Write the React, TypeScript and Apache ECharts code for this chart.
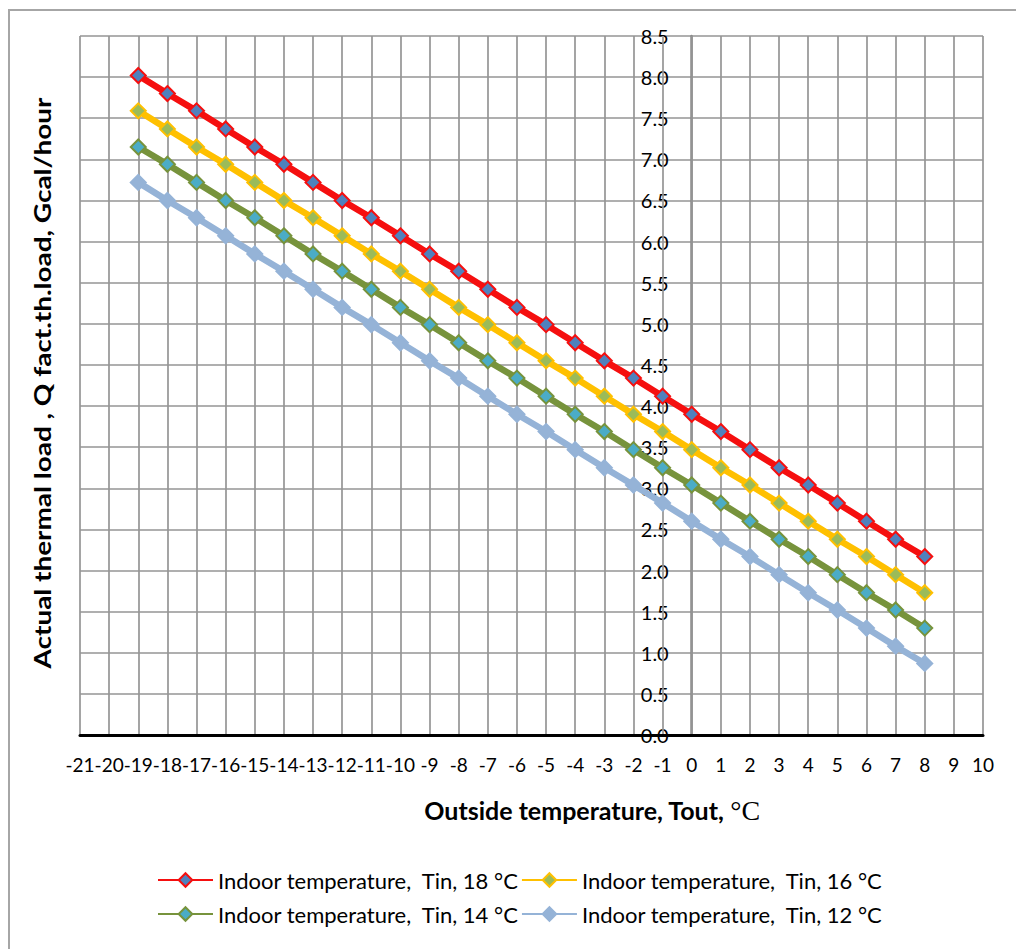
import React, { useEffect, useRef } from "react";
import * as echarts from "echarts";

// Outside temperature, °C (x values of the points)
const TOUT = [-19, -18, -17, -16, -15, -14, -13, -12, -11, -10, -9, -8, -7, -6, -5, -4, -3, -2, -1, 0, 1, 2, 3, 4, 5, 6, 7, 8];

// Actual thermal load, Gcal/hour
const TIN_18 = [8.02, 7.8, 7.59, 7.37, 7.15, 6.94, 6.72, 6.5, 6.29, 6.07, 5.85, 5.64, 5.42, 5.2, 4.99, 4.77, 4.55, 4.34, 4.12, 3.9, 3.69, 3.47, 3.25, 3.04, 2.82, 2.6, 2.38, 2.17];
const TIN_16 = [7.59, 7.37, 7.15, 6.94, 6.72, 6.5, 6.29, 6.07, 5.85, 5.64, 5.42, 5.2, 4.99, 4.77, 4.55, 4.34, 4.12, 3.9, 3.69, 3.47, 3.25, 3.04, 2.82, 2.6, 2.38, 2.17, 1.95, 1.73];
const TIN_14 = [7.15, 6.94, 6.72, 6.5, 6.29, 6.07, 5.85, 5.64, 5.42, 5.2, 4.99, 4.77, 4.55, 4.34, 4.12, 3.9, 3.69, 3.47, 3.25, 3.04, 2.82, 2.6, 2.38, 2.17, 1.95, 1.73, 1.52, 1.3];
const TIN_12 = [6.72, 6.5, 6.29, 6.07, 5.85, 5.64, 5.42, 5.2, 4.99, 4.77, 4.55, 4.34, 4.12, 3.9, 3.69, 3.47, 3.25, 3.04, 2.82, 2.6, 2.38, 2.17, 1.95, 1.73, 1.52, 1.3, 1.08, 0.87];

const SERIES_NAMES = [
  "Indoor temperature,  Tin, 18 °C",
  "Indoor temperature,  Tin, 16 °C",
  "Indoor temperature,  Tin, 14 °C",
  "Indoor temperature,  Tin, 12 °C",
];
const SERIES_VALUES = [TIN_18, TIN_16, TIN_14, TIN_12];
const LINE_COLORS = ["#f50f0f", "#ffc000", "#77933c", "#95b3d7"];
const MARKER_COLORS = ["#4f81bd", "#9bbb59", "#4bacc6", "#95b3d7"];

const X_MIN = -21;
const X_MAX = 10;
const Y_MIN = 0;
const Y_MAX = 8.5;
const Y_STEP = 0.5;

const Y_TITLE = "Actual thermal load , Q fact.th.load, Gcal/hour";
const X_TITLE = "Outside temperature, Tout, ";
const X_TITLE_UNIT = "°C";

const GRID_LEFT = 80;
const GRID_RIGHT = 33;
const CHART_W = 1016;

export default function App() {
  const ref = useRef<HTMLDivElement>(null);

  useEffect(() => {
    document.body.style.margin = "0";
    document.body.style.overflow = "hidden";
    const chart = echarts.init(ref.current!, null, { renderer: "svg" });
    const FONT = "Lato, 'Noto Sans', sans-serif";
    const gridLine = { color: "#959595", width: 1.7 };
    // place the value axis where x = 0 (axis crosses there in the original)
    const plotW = CHART_W - GRID_LEFT - GRID_RIGHT;
    const zeroShift = ((0 - X_MIN) / (X_MAX - X_MIN)) * plotW;

    chart.setOption({
      animation: false,
      backgroundColor: "#ffffff",
      grid: { left: GRID_LEFT, top: 36, right: GRID_RIGHT, bottom: 214, show: false },
      xAxis: {
        type: "value",
        min: X_MIN,
        max: X_MAX,
        interval: 1,
        axisLine: { show: true, onZero: false, lineStyle: { color: "#000000", width: 3 } },
        axisTick: { show: false },
        axisLabel: {
          margin: 20,
          fontSize: 19,
          color: "#000000",
          fontFamily: FONT,
          showMinLabel: true,
          showMaxLabel: true,
          hideOverlap: false,
        },
        splitLine: { show: true, lineStyle: gridLine },
        z: 3,
      },
      yAxis: {
        type: "value",
        min: Y_MIN,
        max: Y_MAX,
        interval: Y_STEP,
        offset: -zeroShift,
        axisLine: { show: true, onZero: false, lineStyle: { color: "#8a8a8a", width: 2.5 } },
        axisTick: { show: false },
        axisLabel: {
          margin: 23,
          fontSize: 20,
          color: "#000000",
          fontFamily: FONT,
          showMinLabel: true,
          showMaxLabel: true,
          hideOverlap: false,
          formatter: (v: number) => v.toFixed(1),
        },
        splitLine: { show: true, lineStyle: gridLine },
      },
      legend: [
        {
          data: [SERIES_NAMES[0], SERIES_NAMES[1]],
          left: 157,
          top: 869,
          padding: 0,
          itemWidth: 55,
          itemHeight: 17,
          itemGap: 2,
          textStyle: { fontSize: 22, color: "#000000", fontFamily: FONT },
        },
        {
          data: [SERIES_NAMES[2], SERIES_NAMES[3]],
          left: 157,
          top: 903,
          padding: 0,
          itemWidth: 55,
          itemHeight: 17,
          itemGap: 2,
          textStyle: { fontSize: 22, color: "#000000", fontFamily: FONT },
        },
      ],
      graphic: [
        {
          type: "rect",
          silent: true,
          shape: { x: 9, y: 10, width: 1030, height: 960 },
          style: { fill: "none", stroke: "#a6a6a6", lineWidth: 2 },
        },
        {
          type: "text",
          x: 42,
          y: 383,
          rotation: Math.PI / 2,
          scaleX: 1.27,
          style: {
            text: Y_TITLE,
            font: "bold 22px Lato, sans-serif",
            fill: "#000000",
            textAlign: "center",
            textVerticalAlign: "middle",
            align: "center",
            verticalAlign: "middle",
          },
        },
        {
          type: "text",
          x: 592,
          y: 810,
          style: {
            text: "{a|" + X_TITLE + "}{b|" + X_TITLE_UNIT + "}",
            rich: {
              a: { font: "bold 25px Lato, sans-serif", fill: "#000000" },
              b: { font: "28px 'Liberation Serif', serif", fill: "#000000" },
            },
            fill: "#000000",
            textAlign: "center",
            textVerticalAlign: "middle",
            align: "center",
            verticalAlign: "middle",
          },
        },
      ],
      series: SERIES_NAMES.map((name, i) => ({
        name,
        type: "line",
        data: TOUT.map((t, j) => [t, SERIES_VALUES[i][j]]),
        symbol: "diamond",
        symbolSize: 15,
        lineStyle: { color: LINE_COLORS[i], width: 6.5 },
        itemStyle: { color: MARKER_COLORS[i], borderColor: LINE_COLORS[i], borderWidth: 2 },
        emphasis: { disabled: true },
        z: 10 - i,
      })),
    });

    return () => chart.dispose();
  }, []);

  return <div ref={ref} style={{ width: CHART_W, height: 949 }} />;
}
